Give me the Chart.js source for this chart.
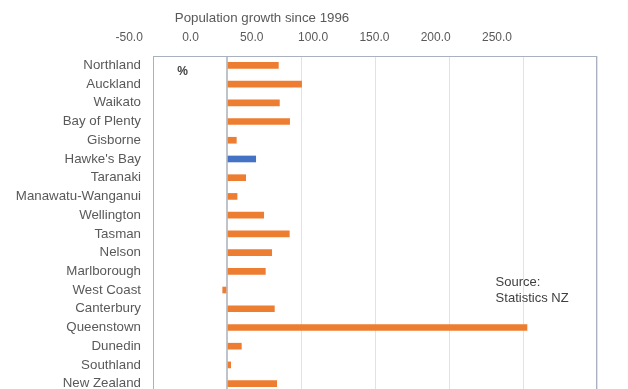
<!DOCTYPE html>
<html><head><meta charset="utf-8">
<script src="https://cdn.jsdelivr.net/npm/chart.js@4/dist/chart.umd.min.js"></script>
<style>html,body{margin:0;padding:0;overflow:hidden;background:#fff}canvas{display:block}</style>
</head><body><canvas id="c" width="628" height="396"></canvas>
<script>
const categories = ["Northland","Auckland","Waikato","Bay of Plenty","Gisborne","Hawke's Bay","Taranaki","Manawatu-Wanganui","Wellington","Tasman","Nelson","Marlborough","West Coast","Canterbury","Queenstown","Dunedin","Southland","New Zealand"];
const growth = [34.7,50.4,35.4,42.3,6.3,19.4,12.6,6.8,24.8,42.1,30.2,25.9,-2.9,32.0,202.7,9.7,2.5,33.6];
const tickValues = [-50,0,50,100,150,200,250];
const highlighted = "Hawke's Bay";
const titleText = "Population growth since 1996";
const unitLabel = "%";
const sourceLines = ["Source:","Statistics NZ"];

const ORANGE = '#ED7D31', BLUE = '#4472C4';
const FONT = "'Liberation Sans', Arial, sans-serif";

const frame = {
  id: 'frame',
  afterDraw(chart) {
    const {ctx, chartArea: a, scales} = chart;
    ctx.save();
    ctx.strokeStyle = '#A9B1C1';
    ctx.lineWidth = 1;
    ctx.strokeRect(Math.round(a.left) + 0.5, Math.round(a.top) + 0.5, Math.round(a.right - a.left) - 1, Math.round(a.bottom - a.top) + 4);
    // title
    ctx.fillStyle = '#595959';
    ctx.textBaseline = 'middle';
    ctx.textAlign = 'center';
    ctx.font = '13.3px ' + FONT;
    ctx.fillText(titleText, 262, 18);
    // annotations
    const xs = scales.x, ys = scales.y;
    ctx.fillStyle = '#404040';
    ctx.font = 'bold 12px ' + FONT;
    ctx.fillText(unitLabel, xs.getPixelForValue(-30), ys.getPixelForValue(0.35));
    ctx.font = '13px ' + FONT;
    ctx.textAlign = 'left';
    sourceLines.forEach((t, i) => ctx.fillText(t, xs.getPixelForValue(181.5), ys.getPixelForValue(11.57 + i * 0.86)));
    ctx.restore();
  }
};

new Chart(document.getElementById('c'), {
  type: 'bar',
  data: {
    labels: categories,
    datasets: [{
      data: growth,
      backgroundColor: categories.map(c => c === highlighted ? BLUE : ORANGE),
      barThickness: 6,
      borderWidth: 0
    }]
  },
  options: {
    indexAxis: 'y',
    responsive: false,
    animation: false,
    layout: {padding: {left: 0, right: 31, top: 0, bottom: 3}},
    plugins: {
      legend: {display: false},
      tooltip: {enabled: false},
      title: {display: false}
    },
    scales: {
      x: {
        type: 'linear', position: 'top', weight: 0,
        min: -50, max: 250,
        afterBuildTicks: s => { s.ticks = tickValues.map(v => ({value: v})); },
        afterFit: s => { s.height = 0; s.paddingLeft = 0; s.paddingRight = 0; },
        grid: {
          drawTicks: false,
          color: c => c.tick && c.tick.value === 0 ? '#BFC3CA' : '#E2E2E2',
          lineWidth: c => c.tick && c.tick.value === 0 ? 2 : 1
        },
        border: {display: false},
        ticks: {display: false}
      },
      x2: {
        type: 'linear', position: 'top', weight: 1,
        min: -60, max: 302.1,
        afterBuildTicks: s => { s.ticks = tickValues.map(v => ({value: v})); },
        afterFit: s => { s.height = 56; s.paddingLeft = 0; s.paddingRight = 0; },
        grid: {display: false, drawTicks: false},
        border: {display: false},
        ticks: {
          autoSkip: false, maxRotation: 0, padding: 11, labelOffset: -36.1,
          color: '#595959', font: {family: FONT, size: 12},
          callback: v => Number(v).toFixed(1)
        }
      },
      y: {
        type: 'category',
        afterFit: s => { s.width = 153; s.paddingTop = 0; s.paddingBottom = 0; },
        grid: {display: false, drawTicks: false},
        border: {display: false},
        ticks: {
          autoSkip: false, padding: 12,
          color: '#595959', font: {family: FONT, size: 13.3}
        }
      }
    }
  },
  plugins: [frame]
});
</script>
</body></html>
